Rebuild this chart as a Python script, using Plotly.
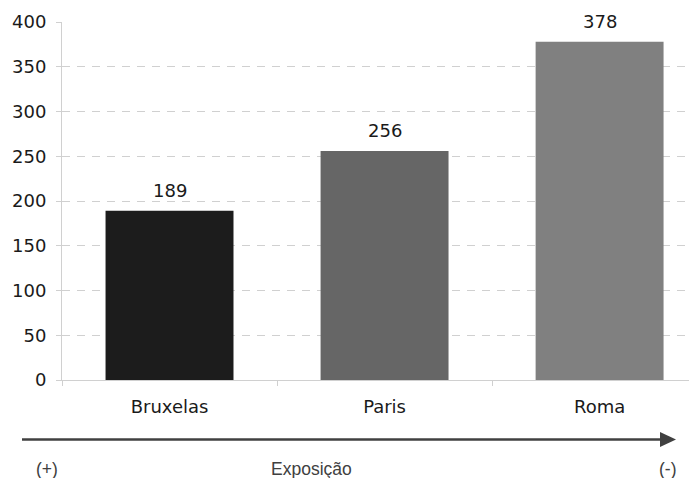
import plotly.graph_objects as go

categories = ["Bruxelas", "Paris", "Roma"]
values = [189, 256, 378]
bar_colors = ["#1c1c1c", "#666666", "#808080"]
y_ticks = [0, 50, 100, 150, 200, 250, 300, 350, 400]

OFF = 8  # default page body margin
W, H = 697 - OFF, 478 - OFF
L, R, T, B = 62 - OFF, 0, 22 - OFF, 98
pw, ph = W - L - R, H - T - B

def px(x):
    return (x - OFF - L) / pw

def py(y):
    return (H - B - (y - OFF)) / ph

fig = go.Figure(go.Bar(
    x=categories, y=values, marker=dict(color=bar_colors, line=dict(width=0)),
    width=0.595, hoverinfo="x+y",
))

for c, v in zip(categories, values):
    fig.add_annotation(x=c, y=v, text=str(v), showarrow=False, yanchor="bottom",
                       xanchor="center", yshift=8,
                       font=dict(family="DejaVu Sans", size=18, color="#1a1a1a"))

fig.update_layout(
    width=W, height=H, margin=dict(l=L, r=R, t=T, b=B),
    plot_bgcolor="white", paper_bgcolor="white", showlegend=False,
    font=dict(family="DejaVu Sans", size=18, color="#1a1a1a"),
    xaxis=dict(range=[-0.5, 2.453], showline=True, linecolor="#d0d0d0", linewidth=1,
               ticks="outside", ticklen=5, tickcolor="#d0d0d0", tickson="boundaries",
               showgrid=False, zeroline=False, ticklabelstandoff=10),
    yaxis=dict(range=[0, 400], tickvals=y_ticks, showline=True, linecolor="#d0d0d0",
               linewidth=1, ticks="outside", ticklen=5, tickcolor="#d0d0d0",
               showgrid=True, gridcolor="#d0d0d0", griddash="8px,7px", gridwidth=1,
               zeroline=False, ticklabelstandoff=6),
)

# arrow line and head
fig.add_shape(type="line", xref="paper", yref="paper",
              x0=px(22), x1=px(662), y0=py(439.5), y1=py(439.5),
              line=dict(color="#404040", width=2.5))
fig.add_shape(type="path", xref="paper", yref="paper",
              path=f"M {px(660)} {py(432)} L {px(676)} {py(439.5)} L {px(660)} {py(447)} Z",
              fillcolor="#404040", line=dict(width=0))

for txt, xc in [("(+)", 46.5), ("Exposição", 311), ("(-)", 667)]:
    fig.add_annotation(text=txt, xref="paper", yref="paper", x=px(xc), y=py(469),
                       showarrow=False, xanchor="center", yanchor="middle",
                       font=dict(family="Liberation Sans", size=17.5, color="#404040"))

fig.write_html("out.html")
